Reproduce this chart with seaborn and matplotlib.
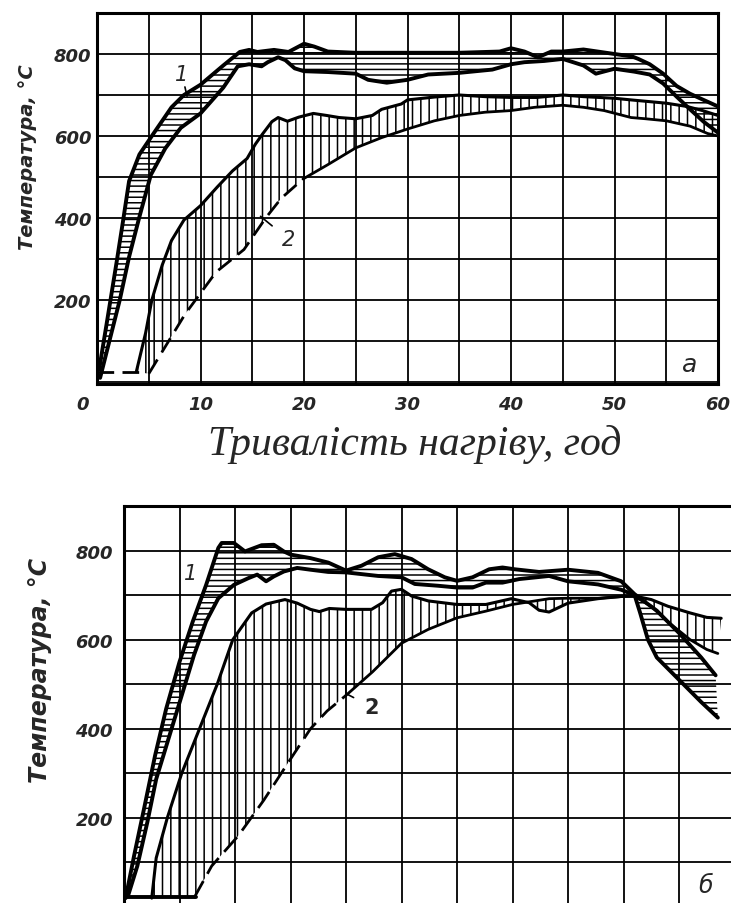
import matplotlib
matplotlib.use("Agg")
import matplotlib.pyplot as plt
import seaborn as sns
from matplotlib.transforms import ScaledTranslation

# ---------------- panel "a" ----------------
# zone 1: upper and lower temperature envelopes
a1_up_h = [0.2, 0.9, 1.9, 2.5, 3.1, 4.1, 5.3, 7.2, 8.4, 10, 12.2, 13.8, 14.7, 15.5, 17.1,
           18.5, 20, 21, 22.3, 25, 30, 35, 38.9, 40, 41.3, 42.6, 43.9, 45, 47, 50, 51.7,
           52.3, 53.4, 54.7, 56, 57.3, 58.6, 60]
a1_up_t = [30, 137, 293, 390, 490, 555, 600, 670, 700, 725, 772, 805, 810, 805, 810,
           805, 825, 818, 806, 803, 803, 803, 806, 814, 806, 792, 806, 806, 811, 800, 794,
           788, 775, 752, 722, 703, 688, 672]
a1_lo_h = [0.3, 1.25, 2.2, 3.1, 4.1, 5.2, 6.6, 8.1, 10, 12.2, 13.6, 14.7, 15.9, 16.5,
           17.5, 18.2, 19.1, 20, 22.3, 25, 26.2, 28, 30, 32, 35, 38.2, 40, 41.3, 43.2, 45,
           47, 48.2, 50, 51.9, 53.4, 54.7, 56, 57.3, 58.6, 60]
a1_lo_t = [10, 105, 200, 305, 403, 505, 570, 620, 655, 718, 770, 775, 770, 780,
           792, 785, 765, 758, 756, 752, 737, 730, 737, 750, 754, 762, 775, 780, 783, 788,
           772, 752, 764, 757, 750, 728, 696, 665, 635, 608]
# zone 2
a2_up_h = [3.8, 4.7, 5.3, 6.3, 7.2, 8.4, 10, 11.6, 13.1, 14.5, 15.3, 16, 16.9, 17.5, 18.4,
           19.5, 20.9, 22.2, 23.4, 25, 26.6, 27.5, 29.4, 30, 32.6, 35, 37.5, 40, 42.5, 45,
           47, 50, 51.6, 55, 57, 58.5, 60]
a2_up_t = [25, 120, 200, 285, 345, 395, 430, 475, 515, 545, 580, 605, 635, 645, 636,
           646, 655, 650, 645, 642, 650, 665, 678, 688, 695, 700, 696, 694, 694, 700,
           696, 692, 688, 680, 672, 662, 650]
a2_lo_h = [5, 8.5, 11.5, 14.2, 16.3, 17.8, 19.9, 22.3, 25, 27.5, 30, 32.6, 35, 37.5, 40,
           42.3, 45, 47, 49, 51.6, 53, 55, 57.3, 59, 60]
a2_lo_t = [20, 165, 268, 323, 400, 448, 495, 530, 571, 596, 617, 637, 650, 658, 662,
           670, 675, 670, 662, 645, 642, 637, 624, 606, 600]
a2_base_h = [0, 4.5]
a2_base_t = [25, 25]

# ---------------- panel "б" ----------------
b1_up_h = [0.15, 0.9, 1.8, 2.8, 3.8, 5, 6.2, 7.4, 8.5, 8.8, 9.9, 10.9, 12.4, 13.5, 14.4,
           15, 16.8, 18.4, 20, 21.4, 22.9, 24.4, 25.9, 27.4, 28.9, 30, 31.4, 32.9, 34.1,
           35.2, 37.4, 40, 42.7, 44.8, 46, 48, 50, 52, 53.3]
b1_up_t = [20, 114, 220, 340, 445, 550, 641, 723, 806, 817, 817, 798, 812, 813, 798,
           791, 783, 773, 755, 766, 785, 792, 781, 758, 740, 732, 740, 758, 762,
           758, 752, 757, 750, 731, 702, 665, 615, 560, 520]
b1_lo_h = [0.4, 1.2, 2.1, 2.9, 4.1, 5.3, 6.3, 7.4, 8.5, 9.9, 11.2, 12, 12.8, 13.5, 14.4,
           15.6, 16.8, 18.4, 20, 22.9, 25, 26.2, 28.3, 30, 31.4, 32.6, 34.1, 35.6, 38.3,
           40, 42.7, 44.8, 46, 46.5, 47.2, 48, 50, 52, 53.5]
b1_lo_t = [28, 92, 190, 287, 385, 483, 565, 641, 693, 723, 738, 746, 731, 742, 753,
           761, 757, 752, 751, 743, 740, 725, 721, 717, 717, 728, 728, 736, 743,
           731, 724, 712, 700, 660, 600, 560, 510, 460, 425]
b2_up_h = [2.5, 2.9, 3.9, 5.2, 6.8, 8.4, 9.8, 11.5, 12.8, 14.5, 15.6, 16.8, 17.6, 18.5,
           20, 22.3, 23.3, 24.1, 25, 25.9, 27.4, 30, 32.6, 34.9, 36.5, 37.4, 38.3, 40,
           42.7, 44.8, 46, 47.5, 49, 51, 52.5, 53.8]
b2_up_t = [20, 110, 200, 300, 400, 500, 600, 660, 680, 690, 682, 668, 663, 670,
           668, 668, 683, 709, 713, 698, 687, 679, 679, 692, 683, 666, 662, 682,
           692, 697, 698, 690, 675, 660, 650, 648]
b2_lo_h = [6.3, 7.9, 10.3, 12.6, 15, 16.8, 18.3, 20, 22.4, 25, 27.4, 30, 32.6, 35, 38.3,
           40, 42.7, 45, 46, 47.5, 49, 51, 52.5, 53.5]
b2_lo_t = [20, 92, 160, 240, 332, 400, 440, 475, 528, 592, 623, 649, 664, 679, 692,
           693, 693, 697, 697, 675, 640, 600, 578, 569]
b2_base_h = [0.3, 6.5]
b2_base_t = [22, 22]

x_ticks = list(range(0, 61, 5))
x_labels = ["0", "", "10", "", "20", "", "30", "", "40", "", "50", "", "60"]
y_ticks = list(range(0, 901, 100))
y_labels = ["", "", "200", "", "400", "", "600", "", "800", ""]

sns.set_theme(style="white")
plt.rcParams["font.family"] = ["DejaVu Sans"]
plt.rcParams["hatch.color"] = "black"
plt.rcParams["hatch.linewidth"] = 1.1

fig = plt.figure(figsize=(7.31, 9.04), dpi=100)
fig.patch.set_facecolor("white")
ax_a = fig.add_axes([97 / 731, 1 - 385 / 904, 621 / 731, 371 / 904])
ax_b = fig.add_axes([124 / 731, 1 - 908 / 904, 666 / 731, 401 / 904])

tick_font = dict(fontsize=13, fontweight="bold", fontstyle="italic")


def line(ax, xs, ys, lw=2.8, ls="-"):
    sns.lineplot(x=xs, y=ys, ax=ax, color="black", lw=lw, sort=False,
                 estimator=None, linestyle=ls, zorder=4)


def band(ax, xu, yu, xl, yl, hatch):
    px = list(xu) + list(xl)[::-1]
    py = list(yu) + list(yl)[::-1]
    ax.fill(px, py, facecolor="none", edgecolor="black", linewidth=0,
            hatch=hatch, zorder=3)


def frame(ax, ylo):
    ax.set_xlim(0, 60)
    ax.set_ylim(ylo, 900)
    ax.set_xticks(x_ticks)
    ax.set_yticks(y_ticks)
    ax.set_yticklabels(y_labels, **tick_font)
    ax.grid(True, color="black", lw=1.3)
    ax.set_axisbelow(True)
    ax.tick_params(length=0)
    for s in ax.spines.values():
        s.set_color("black")
        s.set_linewidth(2.2)
    ax.set_xlabel("")
    ax.set_ylabel("")


# panel a
band(ax_a, a1_up_h, a1_up_t, a1_lo_h, a1_lo_t, "---")
band(ax_a, a2_up_h, a2_up_t, a2_lo_h, a2_lo_t, "||")
line(ax_a, a1_up_h, a1_up_t)
line(ax_a, a1_lo_h, a1_lo_t)
line(ax_a, a2_up_h, a2_up_t, lw=2.2)
line(ax_a, a2_lo_h[:7], a2_lo_t[:7], lw=2.0, ls=(0, (6, 3)))
line(ax_a, a2_lo_h[6:], a2_lo_t[6:], lw=2.0)
line(ax_a, a2_base_h, a2_base_t, lw=2.0, ls=(0, (6, 3)))
frame(ax_a, -5)
ax_a.set_xticklabels(x_labels, **tick_font)
ax_a.tick_params(axis="x", pad=8)
ax_a.tick_params(axis="y", pad=4)
lab0 = ax_a.get_xticklabels()[0]
lab0.set_transform(lab0.get_transform() + ScaledTranslation(-0.14, 0, fig.dpi_scale_trans))

ax_a.annotate("1", xy=(8.7, 697), xytext=(8.2, 752), fontsize=15, fontstyle="italic",
              ha="center", va="center",
              arrowprops=dict(arrowstyle="-", color="black", lw=1.2, shrinkA=8, shrinkB=0))
ax_a.annotate("2", xy=(15.8, 404), xytext=(18.5, 348), fontsize=15, fontstyle="italic",
              ha="center", va="center",
              arrowprops=dict(arrowstyle="-", color="black", lw=1.2, shrinkA=6, shrinkB=0))
ax_a.text(57.3, 45, "a", fontsize=18, fontstyle="italic", ha="center", va="center")

# panel б
band(ax_b, b1_up_h, b1_up_t, b1_lo_h, b1_lo_t, "---")
band(ax_b, b2_up_h, b2_up_t, b2_lo_h, b2_lo_t, "||")
line(ax_b, b1_up_h, b1_up_t)
line(ax_b, b1_lo_h, b1_lo_t)
line(ax_b, b2_up_h, b2_up_t, lw=2.2)
line(ax_b, b2_lo_h[:8], b2_lo_t[:8], lw=2.0, ls=(0, (7, 3)))
line(ax_b, b2_lo_h[7:], b2_lo_t[7:], lw=2.0)
line(ax_b, b2_base_h, b2_base_t, lw=2.8)
frame(ax_b, 0)
ax_b.set_xticklabels([""] * len(x_ticks))
ax_b.tick_params(axis="y", pad=8)
ax_b.spines["right"].set_visible(False)

ax_b.annotate("1", xy=(7.5, 725), xytext=(6.0, 750), fontsize=15, fontstyle="italic",
              ha="center", va="center",
              arrowprops=dict(arrowstyle="-", color="black", lw=1.2, shrinkA=5, shrinkB=0))
ax_b.annotate("2", xy=(20.0, 479), xytext=(22.3, 449), fontsize=15, fontweight="bold",
              ha="center", va="center",
              arrowprops=dict(arrowstyle="-", color="black", lw=1.2, shrinkA=6, shrinkB=0))
ax_b.text(52.4, 50, "б", fontsize=17, fontstyle="italic", ha="center", va="center")

# shared labels
ylab = dict(rotation=90, ha="center", va="center", fontweight="bold", fontstyle="italic")
fig.text(28 / 731, 1 - 157 / 904, "Температура, °С", fontsize=14, **ylab)
fig.text(40 / 731, 1 - 670 / 904, "Температура, °С", fontsize=17, **ylab)
fig.text(415 / 731, 1 - 445 / 904, "Тривалість нагріву, год", ha="center", va="center",
         fontsize=30, family=["Liberation Serif", "DejaVu Serif"], fontstyle="italic")

fig.savefig("out.png", dpi=100, facecolor="white")
